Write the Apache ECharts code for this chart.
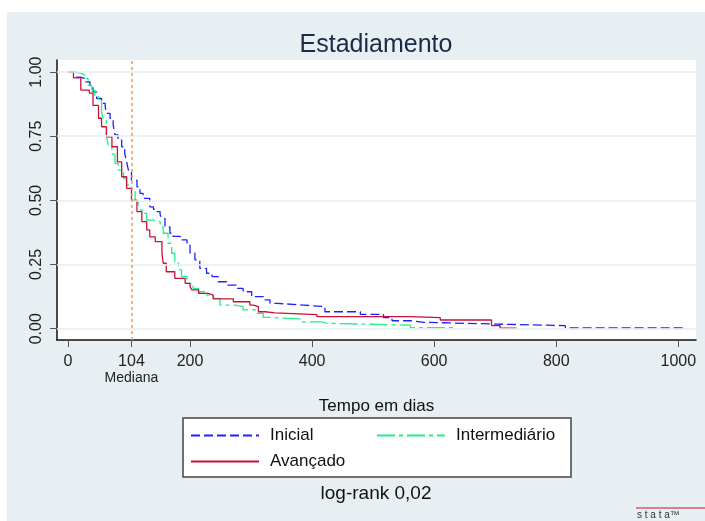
<!DOCTYPE html>
<html>
<head>
<meta charset="utf-8">
<script src="https://cdn.jsdelivr.net/npm/echarts@6/dist/echarts.min.js"></script>
<style>
  html, body { margin: 0; padding: 0; background: #fff; }
  .bg { position: absolute; left: 7px; top: 12px; width: 698px; height: 509px; background: #e8eff2; }
  #chart { position: absolute; left: 0; top: 0; width: 705px; height: 521px; }
</style>
</head>
<body>
<div class="bg"></div>
<div id="chart"></div>
<script>
// Kaplan-Meier estimates: [dias, sobrevida]
const inicial = [[0,1],[14,0.98],[20,0.975],[28,0.962],[36,0.943],[41,0.923],[47,0.897],[55,0.878],[61,0.865],[63,0.839],[69,0.82],[74,0.794],[77,0.755],[82,0.735],[88,0.709],[93,0.683],[96,0.65],[99,0.618],[104,0.579],[113,0.553],[118,0.527],[123,0.508],[134,0.475],[140,0.465],[145,0.456],[151,0.443],[154,0.43],[159,0.397],[167,0.372],[172,0.36],[184,0.346],[195,0.326],[200,0.294],[208,0.268],[216,0.235],[227,0.216],[236,0.203],[246,0.183],[260,0.17],[277,0.157],[287,0.144],[301,0.125],[320,0.112],[331,0.099],[342,0.092],[386,0.086],[421,0.066],[479,0.056],[517,0.043],[531,0.031],[561,0.025],[583,0.018],[702,0.012],[815,0.003],[1011,0.003]]
const intermediario = [[0,1],[11,0.995],[22,0.988],[28,0.975],[33,0.949],[39,0.93],[44,0.904],[50,0.884],[55,0.845],[58,0.813],[63,0.748],[66,0.716],[72,0.68],[77,0.644],[82,0.618],[91,0.586],[96,0.56],[104,0.534],[110,0.5],[115,0.482],[118,0.462],[123,0.449],[129,0.423],[143,0.417],[151,0.397],[156,0.372],[164,0.333],[170,0.294],[175,0.261],[181,0.229],[186,0.203],[195,0.177],[205,0.157],[214,0.144],[227,0.131],[238,0.118],[249,0.092],[274,0.086],[287,0.073],[309,0.06],[320,0.044],[331,0.038],[380,0.027],[416,0.021],[424,0.014],[561,0.004],[632,0.004]]
const avancado = [[0,1],[9,0.977],[21,0.93],[35,0.918],[41,0.87],[50,0.82],[55,0.787],[63,0.748],[72,0.709],[81,0.65],[88,0.592],[96,0.547],[104,0.5],[113,0.456],[121,0.417],[129,0.385],[134,0.358],[143,0.339],[154,0.294],[156,0.255],[161,0.222],[175,0.196],[192,0.177],[200,0.164],[203,0.151],[214,0.138],[230,0.131],[238,0.116],[271,0.105],[298,0.092],[304,0.086],[312,0.066],[323,0.062],[339,0.055],[408,0.047],[560,0.043],[610,0.034],[694,0.012],[708,0.002],[735,0.002]]

const xTicks = [0, 104, 200, 400, 600, 800, 1000]
const yTicks = [0, 0.25, 0.5, 0.75, 1]
const mediana = 104

const font = 'Liberation Sans'
const chart = echarts.init(document.getElementById('chart'))

chart.setOption({
  animation: false,
  textStyle: { fontFamily: font },
  title: [{
    text: 'Estadiamento',
    left: 376, top: 33, textAlign: 'center', padding: 0,
    textStyle: { fontSize: 25, fontWeight: 'normal', color: '#1c2a48' }
  }, {
    text: 'log-rank 0,02',
    left: 376, top: 484, textAlign: 'center', padding: 0,
    textStyle: { fontSize: 19, fontWeight: 'normal', color: '#111' }
  }, {
    text: 's t a t a™',
    left: 637, top: 510, padding: 0,
    textStyle: { fontSize: 10, fontWeight: 'normal', color: '#333' }
  }],
  graphic: [{
    type: 'rect', shape: { x: 183, y: 418, width: 388, height: 59 },
    style: { fill: '#fff', stroke: '#444', lineWidth: 1.5 }, z: 0
  }, {
    type: 'line', shape: { x1: 636, y1: 508, x2: 705, y2: 508 },
    style: { stroke: '#c8102e', lineWidth: 1 }
  }],
  legend: [
    { data: ['Inicial'], left: 190, top: 427 },
    { data: ['Intermediário'], left: 376, top: 427 },
    { data: ['Avançado'], left: 190, top: 453 }
  ].map(l => Object.assign(l, {
    padding: 0, itemWidth: 68, itemHeight: 14, z: 5,
    itemStyle: { opacity: 0 },
    textStyle: { fontSize: 17, color: '#111', padding: [0, 0, 0, 6] }
  })),
  grid: {
    left: 57, right: 9, top: 60, bottom: 181,
    show: true, backgroundColor: '#fff', borderWidth: 0
  },
  xAxis: {
    type: 'value', min: -18, max: 1029,
    name: 'Tempo em dias', nameLocation: 'middle', nameGap: 58,
    nameTextStyle: { fontSize: 17, color: '#111' },
    axisLine: { onZero: false, lineStyle: { color: '#111', width: 1.5 } },
    axisTick: { customValues: xTicks, length: 7, lineStyle: { color: '#555' } },
    axisLabel: {
      customValues: xTicks, margin: 13,
      formatter: v => v === mediana ? '{n|' + v + '}\n{m|Mediana}' : '{n|' + v + '}',
      rich: {
        n: { fontSize: 16, lineHeight: 18, color: '#222' },
        m: { fontSize: 14, lineHeight: 15, color: '#222' }
      }
    },
    splitLine: { show: false }
  },
  yAxis: {
    type: 'value', min: -0.044, max: 1.047,
    axisLine: { show: true, onZero: false, lineStyle: { color: '#111', width: 1.5 } },
    axisTick: { show: true, customValues: yTicks, length: 7, lineStyle: { color: '#555' } },
    axisLabel: {
      customValues: yTicks, rotate: 90, margin: 12,
      fontSize: 16, color: '#222',
      formatter: v => v.toFixed(2)
    },
    splitLine: { show: false }
  },
  series: [{
    name: 'grade', type: 'line', data: [], z: 1, silent: true,
    markLine: {
      silent: true, symbol: 'none', label: { show: false },
      lineStyle: { color: '#e6eef1', type: 'solid', width: 1.5 },
      data: yTicks.map(v => ({ yAxis: v }))
    }
  }, {
    name: 'Inicial', type: 'line', step: 'end', data: inicial,
    symbol: 'none', color: '#2020ff',
    lineStyle: { width: 1.3, type: [9, 4] }
  }, {
    name: 'Intermediário', type: 'line', step: 'end', data: intermediario,
    symbol: 'none', color: '#1ff08a',
    lineStyle: { width: 1.3, type: [18, 4, 4, 4] }
  }, {
    name: 'Avançado', type: 'line', step: 'end', data: avancado,
    symbol: 'none', color: '#c8103a',
    lineStyle: { width: 1.3 },
    markLine: {
      silent: true, symbol: 'none', label: { show: false },
      lineStyle: { color: '#f59a45', type: [3, 3], width: 1.5 },
      data: [{ xAxis: mediana }]
    }
  }]
})
</script>
</body>
</html>
